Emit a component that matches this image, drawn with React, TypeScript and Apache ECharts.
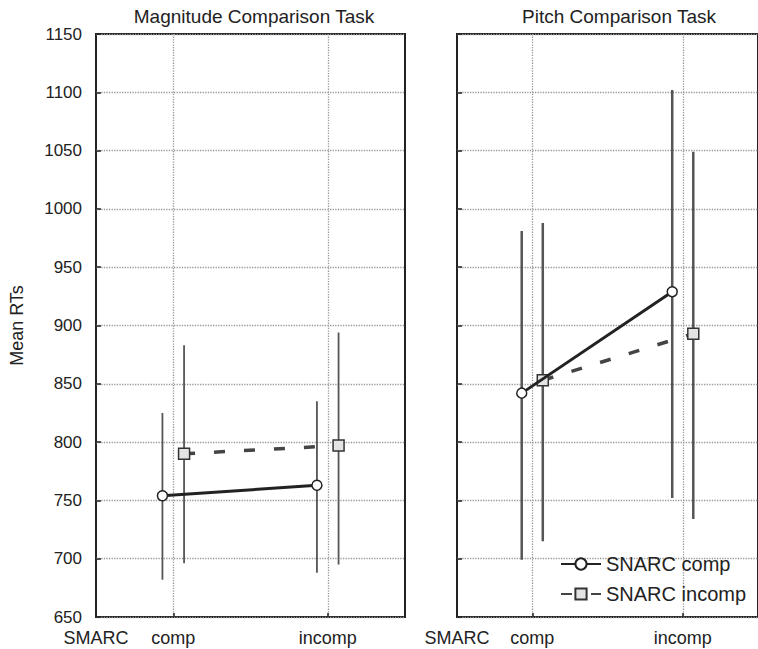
import React, { useEffect, useRef } from "react";
import * as echarts from "echarts";

// ---- data ----
const categories = ["comp", "incomp"]; // x positions 1, 2
const axisStartLabel = "SMARC";
const panelTitles = ["Magnitude Comparison Task", "Pitch Comparison Task"];
const seriesNames = ["SNARC comp", "SNARC incomp"];
const yTicks = { min: 650, max: 1150, step: 50 };

// Magnitude comparison task
const magComp = [754, 763];
const magCompLow = [682, 688];
const magCompHigh = [825, 835];
const magIncomp = [790, 797];
const magIncompLow = [696, 695];
const magIncompHigh = [883, 894];

// Pitch comparison task
const pitchComp = [842, 929];
const pitchCompLow = [699, 752];
const pitchCompHigh = [981, 1102];
const pitchIncomp = [853, 893];
const pitchIncompLow = [715, 734];
const pitchIncompHigh = [988, 1049];

const OFFSET = 0.07; // horizontal dodge of the two series around each category
const FONT = "Liberation Sans, Arial, sans-serif";
const TXT = "#222";

function pts(vals: number[], off: number) {
  return vals.map((v, i) => [i + 1 + off, v]);
}
function bars(low: number[], high: number[], off: number) {
  return low.map((l, i) => [i + 1 + off, l, high[i]]);
}

export default function App() {
  const ref = useRef<HTMLDivElement>(null);
  useEffect(() => {
    if (!ref.current) return;
    const chart = echarts.init(ref.current, null, { renderer: "svg" });

    const errBar = (grid: number, data: number[][], width: number) => ({
      type: "custom",
      name: "err",
      xAxisIndex: grid,
      yAxisIndex: grid,
      z: 1,
      data,
      encode: { x: 0, y: [1, 2] },
      renderItem: (params: any, api: any) => {
        const a = api.coord([api.value(0), api.value(1)]);
        const b = api.coord([api.value(0), api.value(2)]);
        return {
          type: "line",
          shape: { x1: a[0], y1: a[1], x2: b[0], y2: b[1] },
          style: { stroke: "#555", lineWidth: width },
        };
      },
    });

    const compLine = (grid: number, vals: number[]) => ({
      type: "line",
      name: seriesNames[0],
      xAxisIndex: grid,
      yAxisIndex: grid,
      z: 3,
      data: pts(vals, -OFFSET),
      symbol: "circle",
      symbolSize: 10,
      itemStyle: { color: "#fff", borderColor: "#222", borderWidth: 1.5 },
      lineStyle: { color: "#222", width: 3, type: "solid" },
    });
    const incompLine = (grid: number, vals: number[]) => ({
      type: "line",
      name: seriesNames[1],
      xAxisIndex: grid,
      yAxisIndex: grid,
      z: 2,
      data: pts(vals, OFFSET),
      symbol: "rect",
      symbolSize: 11,
      itemStyle: { color: "#e4e4e4", borderColor: "#333", borderWidth: 1.5 },
      lineStyle: { color: "#444", width: 3.5, type: [11, 19] },
    });

    const labelFor = (v: number) => {
      if (Math.abs(v - 0.5) < 1e-6) return axisStartLabel;
      const idx = Math.round(v) - 1;
      return categories[idx] ?? "";
    };

    const xAxis = (grid: number) => ({
      type: "value",
      gridIndex: grid,
      min: 0.5,
      max: 2.5,
      axisLine: { show: false },
      axisTick: {
        show: true,
        inside: true,
        length: 4,
        customValues: [1, 2],
        lineStyle: { color: TXT, width: 1.5 },
      },
      axisLabel: {
        customValues: [0.5, 1, 2],
        formatter: (v: number) => labelFor(v),
        margin: 12,
        fontSize: 18,
        color: TXT,
        fontFamily: FONT,
      },
      splitLine: {
        show: true,
        lineStyle: { type: "dotted", color: "#999", width: 1.3 },
      },
    });

    const yAxis = (grid: number, showLabels: boolean) => ({
      type: "value",
      gridIndex: grid,
      min: yTicks.min,
      max: yTicks.max,
      interval: yTicks.step,
      name: showLabels ? "Mean RTs" : "",
      nameLocation: "middle",
      nameGap: 70,
      nameTextStyle: { fontSize: 18, color: TXT, fontFamily: FONT },
      axisLine: { show: false },
      axisTick: {
        show: true,
        inside: true,
        length: 5,
        lineStyle: { color: TXT, width: 1.5 },
      },
      axisLabel: {
        show: showLabels,
        margin: 14,
        fontSize: 17,
        color: TXT,
        fontFamily: FONT,
        formatter: (v: number) => String(v),
      },
      splitLine: {
        show: true,
        lineStyle: { type: "dotted", color: "#999", width: 1.3 },
      },
    });

    const option: any = {
      animation: false,
      backgroundColor: "#fff",
      textStyle: { fontFamily: FONT },
      title: [
        {
          text: panelTitles[0],
          left: 249,
          top: 2,
          textAlign: "center",
          textStyle: { fontSize: 19, fontWeight: "normal", color: TXT, fontFamily: FONT },
        },
        {
          text: panelTitles[1],
          left: 614,
          top: 2,
          textAlign: "center",
          textStyle: { fontSize: 19, fontWeight: "normal", color: TXT, fontFamily: FONT },
        },
      ],
      grid: [
        { left: 96, top: 34, width: 309, height: 583, show: true, borderColor: "#222", borderWidth: 2 },
        { left: 457, top: 34, width: 309, height: 583, show: true, borderColor: "#222", borderWidth: 2 },
      ],
      legend: {
        data: seriesNames,
        orient: "vertical",
        left: 555,
        top: 549,
        itemWidth: 40,
        itemHeight: 14,
        itemGap: 10,
        textStyle: { fontSize: 20, color: TXT, fontFamily: FONT },
      },
      xAxis: [xAxis(0), xAxis(1)],
      yAxis: [yAxis(0, true), yAxis(1, false)],
      series: [
        errBar(0, bars(magCompLow, magCompHigh, -OFFSET), 1.8),
        errBar(0, bars(magIncompLow, magIncompHigh, OFFSET), 1.8),
        errBar(1, bars(pitchCompLow, pitchCompHigh, -OFFSET), 2.5),
        errBar(1, bars(pitchIncompLow, pitchIncompHigh, OFFSET), 2.5),
        compLine(0, magComp),
        incompLine(0, magIncomp),
        compLine(1, pitchComp),
        incompLine(1, pitchIncomp),
      ],
    };
    chart.setOption(option);
    return () => chart.dispose();
  }, []);

  return (
    <div
      ref={ref}
      style={{ position: "fixed", left: 0, top: 0, width: 758, height: 649, background: "#fff" }}
    />
  );
}
